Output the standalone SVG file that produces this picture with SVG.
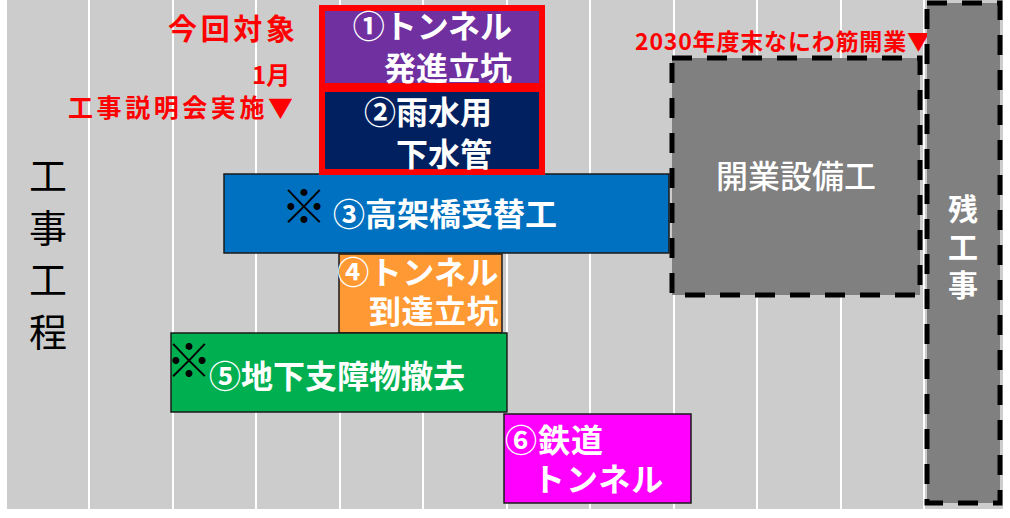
<svg xmlns="http://www.w3.org/2000/svg" width="1010" height="518" viewBox="0 0 1010 518">
<style>
text{font-family:"Noto Sans CJK JP","Liberation Sans",sans-serif}
.w{fill:#fff;font-weight:bold;font-size:32px}
.k{fill:#000;font-weight:bold;font-size:46px}
.r{fill:#ff0000;font-weight:bold}
.vl{stroke:#fff;stroke-width:2}
.bar{stroke:#1a1a1a;stroke-width:1.5}
.dash{fill:#808080;stroke:#000;stroke-width:5;stroke-dasharray:20 15}
.red{stroke:#ff0000;stroke-width:6}
.vt{writing-mode:vertical-rl}
</style>
<rect x="0" y="0" width="1010" height="518" fill="#fff"/>
<rect x="7" y="0" width="996" height="509" fill="#cccccc"/>
<g id="grid">
<line class="vl" x1="89" y1="0" x2="89" y2="509"/>
<line class="vl" x1="173" y1="0" x2="173" y2="509"/>
<line class="vl" x1="256" y1="0" x2="256" y2="509"/>
<line class="vl" x1="340" y1="0" x2="340" y2="509"/>
<line class="vl" x1="423" y1="0" x2="423" y2="509"/>
<line class="vl" x1="507" y1="0" x2="507" y2="509"/>
<line class="vl" x1="590" y1="0" x2="590" y2="509"/>
<line class="vl" x1="674" y1="0" x2="674" y2="509"/>
<line class="vl" x1="757" y1="0" x2="757" y2="509"/>
<line class="vl" x1="841" y1="0" x2="841" y2="509"/>
<line class="vl" x1="924" y1="0" x2="924" y2="509"/>
</g>
<g id="axis-label">
<text class="vt" x="48" y="157" font-size="38" fill="#000" letter-spacing="14">工事工程</text>
</g>
<g id="annotations">
<text class="r" x="168" y="40" font-size="29" textLength="127" lengthAdjust="spacing">今回対象</text>
<text class="r" x="252" y="84" font-size="24">1月</text>
<text class="r" x="68" y="117" font-size="25" textLength="225" lengthAdjust="spacing">工事説明会実施▼</text>
<text class="r" x="635" y="50" font-size="23" textLength="295" lengthAdjust="spacing">2030年度末なにわ筋開業▼</text>
</g>
<g id="connectors"/>
<g id="node-kaigyo">
<rect class="dash" x="672" y="58" width="248" height="237"/>
<text x="796" y="188" fill="#fff" font-size="32" font-weight="500" text-anchor="middle">開業設備工</text>
</g>
<g id="node-zan">
<rect class="dash" x="927" y="3" width="73" height="500"/>
<text class="vt" x="963" y="194" fill="#fff" font-size="30" font-weight="bold" letter-spacing="8">残工事</text>
</g>
<g id="node-3">
<rect class="bar" x="224" y="174" width="445" height="79" fill="#0070c0"/>
<text class="k" x="304" y="223" text-anchor="middle">※</text>
<text class="w" x="333" y="226">③高架橋受替工</text>
</g>
<g id="node-1">
<rect class="red" x="322" y="8" width="220" height="78" fill="#7030a0"/>
<text class="w" text-anchor="end"><tspan x="512" y="38">①トンネル</tspan><tspan x="512" y="80">発進立坑</tspan></text>
</g>
<g id="node-2">
<rect class="red" x="322" y="89" width="220" height="83" fill="#002060"/>
<text class="w" text-anchor="end"><tspan x="492" y="124">②雨水用</tspan><tspan x="492" y="166">下水管</tspan></text>
</g>
<g id="node-4">
<rect class="bar" x="339" y="254" width="163" height="79" fill="#ff9933"/>
<text class="w" text-anchor="end" font-size="29" letter-spacing="0.5"><tspan x="499" y="284">④トンネル</tspan><tspan x="499" y="323">到達立坑</tspan></text>
</g>
<g id="node-5">
<rect class="bar" x="171" y="333" width="336" height="79" fill="#00b050"/>
<text class="k" x="189" y="377" text-anchor="middle">※</text>
<text class="w" x="209" y="388">⑤地下支障物撤去</text>
</g>
<g id="node-6">
<rect class="bar" x="504" y="414" width="187" height="89" fill="#ff00ff"/>
<text class="w" font-size="30" letter-spacing="1"><tspan x="505" y="452">⑥鉄道</tspan><tspan x="533" y="491">トンネル</tspan></text>
</g>
</svg>
